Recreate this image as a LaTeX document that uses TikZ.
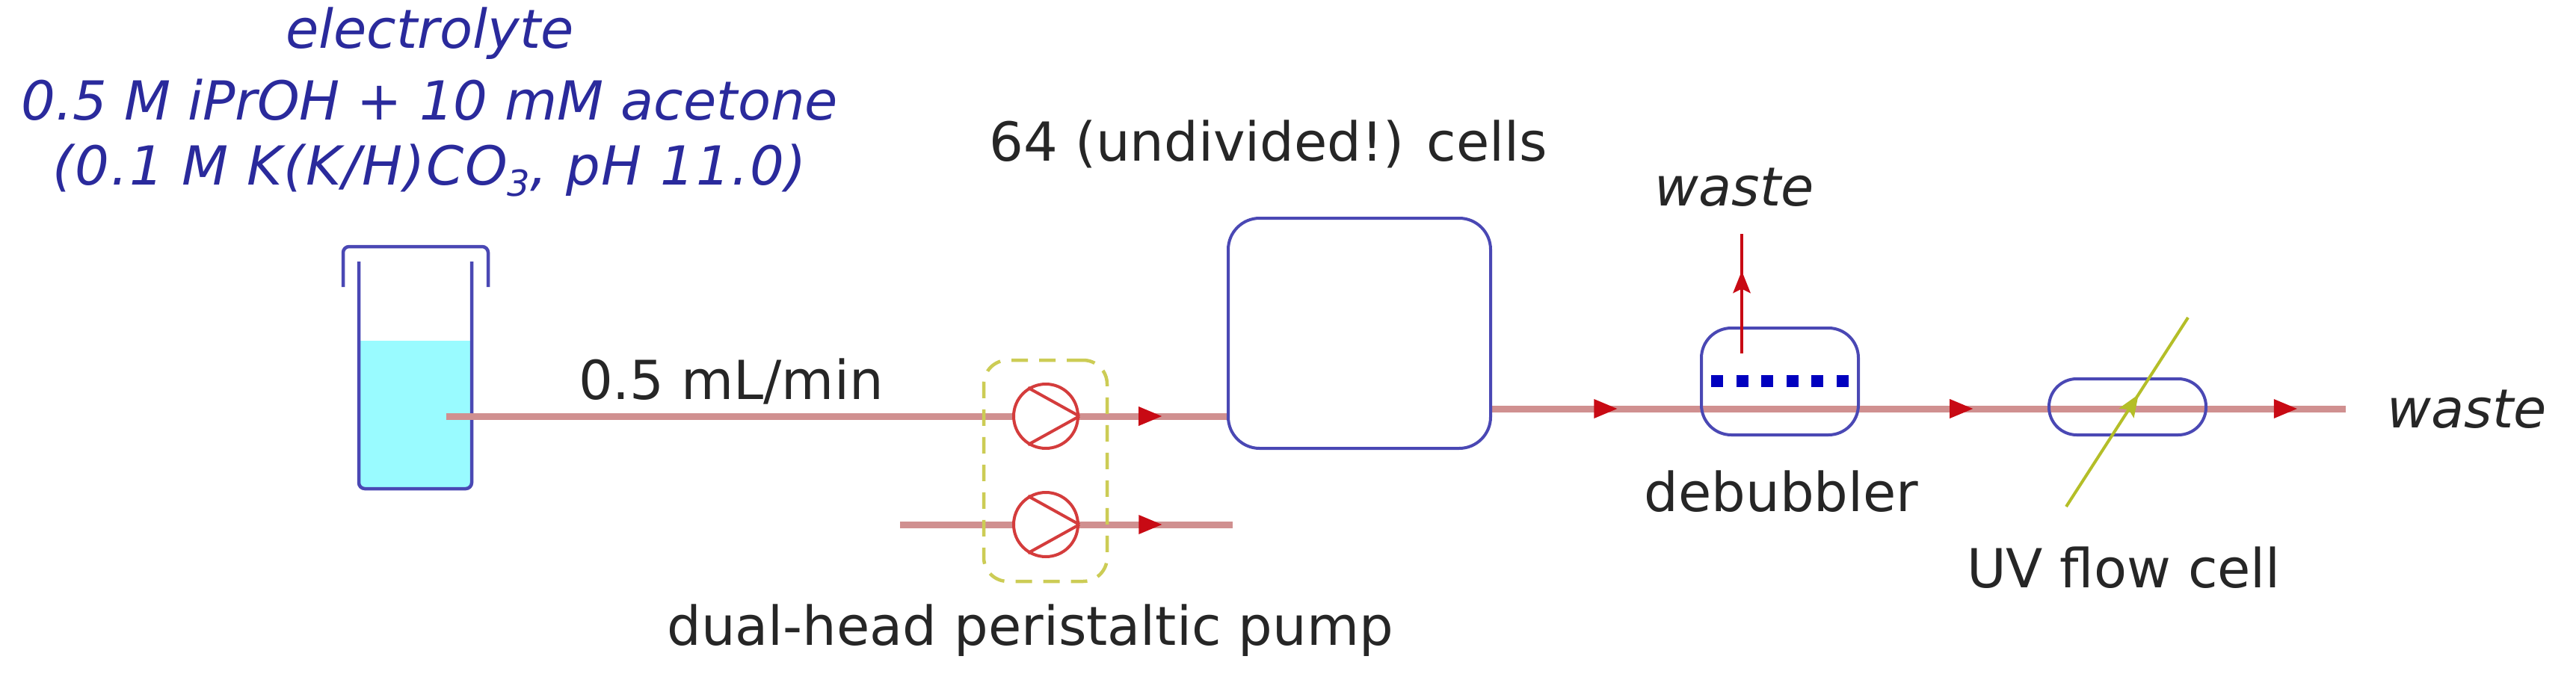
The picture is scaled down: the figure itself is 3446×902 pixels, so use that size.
\documentclass[tikz,border=0pt]{standalone}
\usepackage{fontspec}
\setmainfont{DejaVu Sans}
\usetikzlibrary{decorations.markings}
\definecolor{bluedge}{HTML}{4A48B4}
\definecolor{txtblue}{HTML}{2A2A9C}
\definecolor{tubec}{HTML}{D09090}
\definecolor{pumpc}{HTML}{D43C3C}
\definecolor{headc}{HTML}{C80A14}
\definecolor{yelc}{HTML}{B4BE28}
\definecolor{dashc}{HTML}{CCCC55}
\definecolor{liq}{HTML}{99FBFF}
\newcommand{\headtri}{\fill[headc] (-15pt,-13pt) -- (16pt,0pt) -- (-15pt,13pt) -- cycle;}
\tikzset{
  x=1pt,y=-1pt,
  lab/.style={font=\fontsize{72}{86}\selectfont,text=black!85,inner sep=0pt,anchor=center},
  labit/.style={lab,font=\fontsize{72}{86}\selectfont\itshape},
  boxb/.style={draw=bluedge,line width=4pt,rounded corners=#1,inner sep=0pt,fill=none},
  boxb/.default=40pt,
  tube/.style={draw=tubec,line width=9pt},
  pumpn/.style={circle,draw=pumpc,line width=4pt,fill=white,minimum size=86pt,inner sep=0pt},
  pumpv/.style={draw=pumpc,line width=4pt},
  flow/.style={postaction={decorate},decoration={markings,mark=at position #1 with {\headtri}}},
  flowthree/.style={postaction={decorate},decoration={markings,
     mark=at position 0.134 with {\headtri},
     mark=at position 0.55 with {\headtri},
     mark=at position 0.929 with {\headtri}}},
}
\begin{document}
\begin{tikzpicture}
\useasboundingbox (0,0) rectangle (3446,902);
\fill[white] (0,0) rectangle (3446,902);
% texts
\node[name=t0,labit,text=txtblue] at (575,45) {electrolyte};
\node[name=t1,labit,text=txtblue] at (575,134) {0.5 M iPrOH + 10 mM acetone};
\node[name=t2,labit,text=txtblue] at (575,228) {\addfontfeature{LetterSpace=2.5}(0.1 M K(K/H)CO\raisebox{-0.2em}{\fontsize{48}{54}\selectfont 3}, pH 11.0)};
\node[name=t3,lab] at (1697,193) {64 (undivided!) cells};
\node[name=t4,lab] at (978,510) {0.5 mL/min};
\node[name=t5,labit] at (2320,251) {waste};
\node[name=t6,labit] at (3300,548) {waste};
\node[name=t7,lab] at (2383,658) {debubbler};
\node[name=t8,lab] at (2841,760) {UV flow cell};
\node[name=t9,lab] at (1378,844) {dual-head peristaltic pump};
% vial
\fill[liq] (480,456) -- (631,456) -- (631,646) -- (623,654) -- (488,654) -- (480,646) -- cycle;
\draw[draw=bluedge,line width=4.5pt,rounded corners=8pt] (480,350) -- (480,654) -- (631,654) -- (631,350);
\draw[draw=bluedge,line width=4.5pt,rounded corners=8pt] (459,384) -- (459,330) -- (653,330) -- (653,384);
% coordinates
\coordinate (vialout) at (597,557);
\coordinate (cellin) at (1643,557);
\coordinate (feed) at (1204,702);
\coordinate (feedout) at (1649,702);
\coordinate (cellout) at (1994,547);
\coordinate (wasteend) at (3138,547);
\coordinate (ventstart) at (2330,473);
\coordinate (ventend) at (2330,313);
\coordinate (uvstart) at (2764,678);
\coordinate (uvend) at (2927,425);
% pumps
\node[pumpn] (p1) at (1399,557) {};
\node[pumpn] (p2) at (1399,702) {};
% tubes
\draw[tube] (vialout) -- (p1.west);
\draw[tube,flow=0.473] (p1.east) -- (cellin);
\draw[tube] (feed) -- (p2.west);
\draw[tube,flow=0.46] (p2.east) -- (feedout);
\draw[tube,flowthree] (cellout) -- (wasteend);
\draw[pumpv] (p1.east) -- (p1.122); \draw[pumpv] (p1.east) -- (p1.238);
\draw[pumpv] (p2.east) -- (p2.122); \draw[pumpv] (p2.east) -- (p2.238);
% dashed pump frame
\node[draw=dashc,line width=4.5pt,dash pattern=on 22pt off 15pt,rounded corners=32pt,minimum width=165pt,minimum height=296pt,inner sep=0pt] (pumpframe) at (1398.5,630) {};
% cell
\node[boxb=42pt,minimum width=351pt,minimum height=308pt] (cell) at (1818.5,446) {};
% debubbler
\node[boxb=40pt,minimum width=210pt,minimum height=143pt] (deb) at (2381,510.5) {};
\draw[draw=blue!75!black,line width=16pt,dash pattern=on 16pt off 17.6pt] (2289,510) -- (2476,510);
% vent
\draw[draw=headc,line width=3.5pt,postaction={decorate},decoration={markings,mark=at position 0.59 with {\fill[headc] (-14pt,-12pt) -- (16pt,0pt) -- (-14pt,12pt) -- (-8pt,0pt) -- cycle;}}] (ventstart) -- (ventend);
% flow cell
\node[boxb=37pt,minimum width=210pt,minimum height=75pt] (uv) at (2846,544.5) {};
% UV beam
\draw[draw=yelc,line width=4pt,postaction={decorate},decoration={markings,mark=at position 0.54 with {\fill[yelc] (-14pt,-12pt) -- (16pt,0pt) -- (-14pt,12pt) -- (-8pt,0pt) -- cycle;}}] (uvstart) -- (uvend);
\end{tikzpicture}
\end{document}
